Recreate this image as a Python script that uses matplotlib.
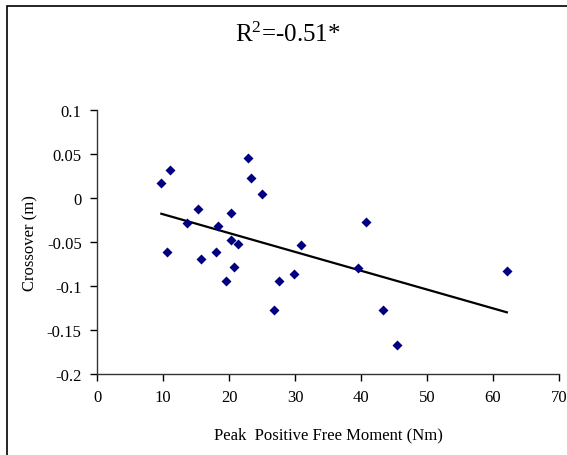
import numpy as np
import matplotlib
matplotlib.use('Agg')
import matplotlib.pyplot as plt
from matplotlib.patches import Rectangle

plt.rcParams['font.family'] = ['Liberation Serif', 'DejaVu Serif']
plt.rcParams['mathtext.fontset'] = 'custom'
plt.rcParams['mathtext.rm'] = 'Liberation Serif'
plt.rcParams['mathtext.it'] = 'Liberation Serif'

# peak positive free moment (Nm) and crossover (m)
moment = [9.75, 11.1, 10.6, 13.7, 15.3, 15.7, 18.0, 18.3, 20.3, 20.3,
          20.7, 21.4, 19.6, 22.9, 23.4, 24.95, 27.6, 29.8, 30.9, 26.8,
          40.7, 39.5, 43.4, 45.4, 62.1]
crossover = [0.017, 0.032, -0.061, -0.029, -0.013, -0.069, -0.062, -0.032, -0.017, -0.048,
             -0.079, -0.053, -0.095, 0.045, 0.023, 0.004, -0.094, -0.086, -0.054, -0.127,
             -0.028, -0.080, -0.127, -0.167, -0.083]

x_ticks = [0, 10, 20, 30, 40, 50, 60, 70]
y_ticks = [-0.2, -0.15, -0.1, -0.05, 0, 0.05, 0.1]
y_labels = ['-0.2', '-0.15', '-0.1', '-0.05', '0', '0.05', '0.1']

fig = plt.figure(figsize=(5.67, 4.56), dpi=100)
ax = fig.add_axes([97 / 567, 81 / 456, 462 / 567, 264.3 / 456])

x = np.array(moment)
y = np.array(crossover)
ax.scatter(x, y, marker='D', s=26, color='#000080', zorder=3, linewidths=0)

# linear trend line
slope, icpt = np.polyfit(x, y, 1)
xs = np.array([x.min(), x.max()])
ax.plot(xs, slope * xs + icpt, color='black', lw=1.6, zorder=2)

ax.set_xlim(0, 70)
ax.set_ylim(-0.2, 0.1)
ax.set_xticks(x_ticks)
ax.set_yticks(y_ticks)
ax.set_yticklabels(y_labels)
ax.tick_params(direction='out', length=5, width=1, labelsize=12, colors='black', pad=6)
for s in ['top', 'right']:
    ax.spines[s].set_visible(False)
for s in ['left', 'bottom']:
    ax.spines[s].set_color('#333333')
    ax.spines[s].set_linewidth(1)

ax.set_xlabel('Peak  Positive Free Moment (Nm)', fontsize=12, labelpad=15)
ax.set_ylabel('Crossover (m)', fontsize=12, labelpad=6)
fig.text(288 / 567, 1 - 41.5 / 456, r'R$^{2}$=-0.51*', fontsize=18, ha='center', va='baseline')

# outer chart border
fig.patches.append(Rectangle((7 / 567, -0.05), 1.1, 1 - 7 / 456 + 0.05, transform=fig.transFigure,
                             fill=False, edgecolor='black', lw=1.2))

fig.savefig('out.png', dpi=100, facecolor='white')
